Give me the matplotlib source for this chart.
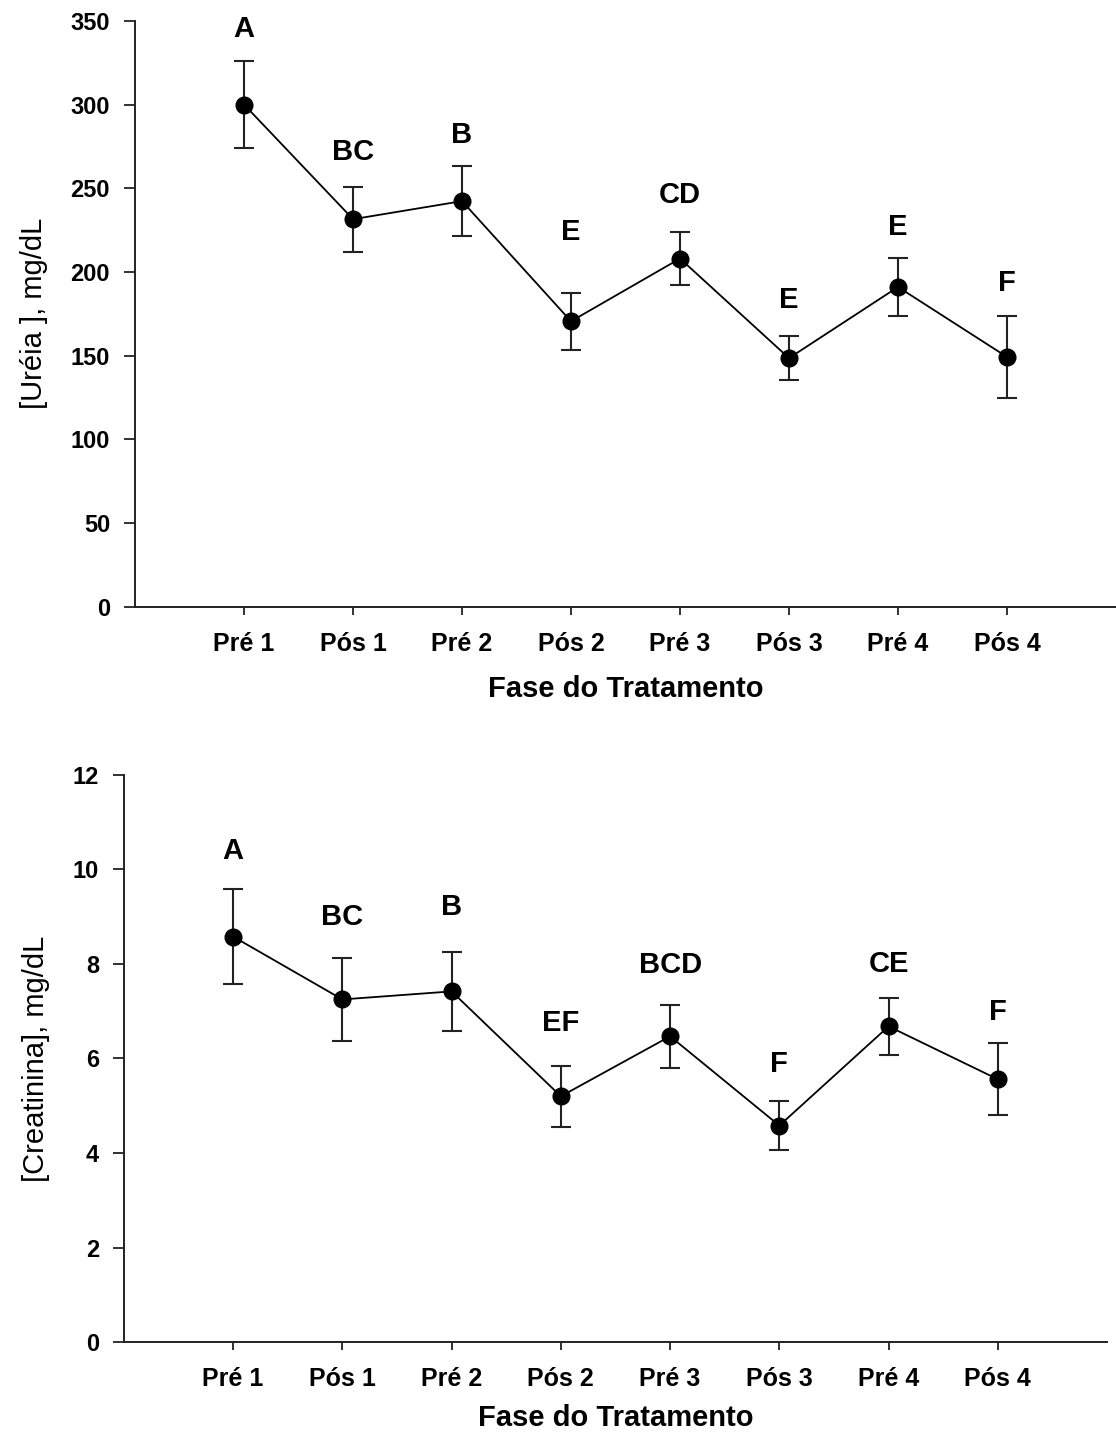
"""Ureia and creatinina by treatment phase"""

import matplotlib
matplotlib.use("Agg")
import matplotlib.pyplot as plt

plt.rcParams['font.family'] = ['Liberation Sans', 'DejaVu Sans']

fases = ["Pré 1", "Pós 1", "Pré 2", "Pós 2", "Pré 3", "Pós 3", "Pré 4", "Pós 4"]

ureia = [300, 231.5, 242.3, 170.5, 208, 148.5, 191, 149.2]
ureia_err = [26, 19.5, 20.8, 17, 16, 13, 17.5, 24.7]
ureia_letras = ["A", "BC", "B", "E", "CD", "E", "E", "F"]
ureia_letras_y = [345, 271.5, 282, 224, 246, 183.5, 227, 193.5]

creat = [8.58, 7.25, 7.42, 5.2, 6.47, 4.58, 6.68, 5.56]
creat_err = [1.0, 0.88, 0.84, 0.64, 0.67, 0.51, 0.6, 0.76]
creat_letras = ["A", "BC", "B", "EF", "BCD", "F", "CE", "F"]
creat_letras_y = [10.4, 9.0, 9.21, 6.75, 7.97, 5.89, 8.0, 6.99]


def painel(ax, vals, errs, letras, letras_y, ylabel, yticks, xpad):
    x = range(len(vals))
    ax.errorbar(x, vals, yerr=errs, fmt="o-", color="black", ecolor="#222222",
                markersize=12, lw=1.3, elinewidth=1.5, capsize=7.5, capthick=1.5)
    for i, (t, yy) in enumerate(zip(letras, letras_y)):
        ax.text(i, yy, t, ha="center", va="center", fontsize=21, fontweight="bold")
    ax.set_xlim(-1, 8)
    ax.set_ylim(yticks[0], yticks[-1])
    ax.set_yticks(yticks)
    ax.set_xticks(list(x))
    ax.set_xticklabels(fases)
    for s in ["top", "right"]:
        ax.spines[s].set_visible(False)
    for s in ["left", "bottom"]:
        ax.spines[s].set_linewidth(1.4)
        ax.spines[s].set_color("#222222")
    ax.tick_params(axis="y", length=8, width=1.3, labelsize=17, pad=10, color="#222222")
    ax.tick_params(axis="x", length=6, width=1.3, labelsize=18, pad=12, color="#222222")
    for lab in ax.get_xticklabels() + ax.get_yticklabels():
        lab.set_fontweight("bold")
    ax.set_xlabel("Fase do Tratamento", fontsize=21, fontweight="bold", labelpad=xpad)
    ax.set_ylabel(ylabel, fontsize=21, labelpad=16)


fig = plt.figure(figsize=(11.16, 14.37), dpi=100)
ax1 = fig.add_axes([0.121, 0.5778, 0.879, 0.4077])
ax2 = fig.add_axes([0.111, 0.0661, 0.881, 0.3946])

painel(ax1, ureia, ureia_err, ureia_letras, ureia_letras_y,
       "[Uréia ], mg/dL", [0, 50, 100, 150, 200, 250, 300, 350], 14)
painel(ax2, creat, creat_err, creat_letras, creat_letras_y,
       "[Creatinina], mg/dL", [0, 2, 4, 6, 8, 10, 12], 9)

fig.savefig("out.png", dpi=100)
